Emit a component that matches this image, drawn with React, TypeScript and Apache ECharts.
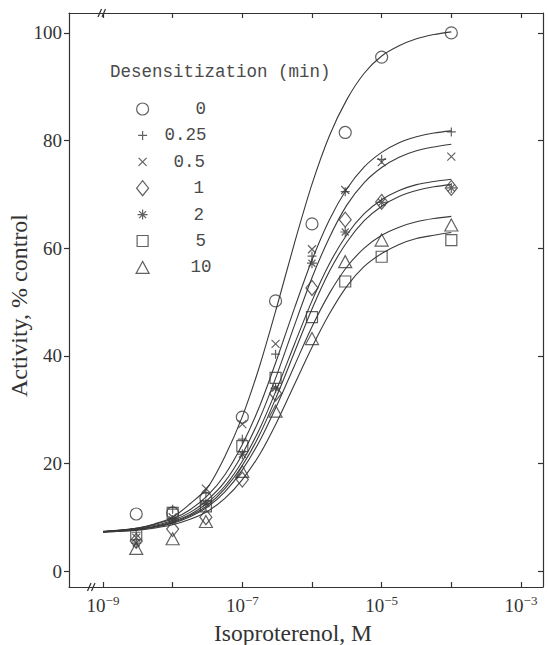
import React, { useEffect, useRef } from 'react';
import * as echarts from 'echarts';

// ---- data ----
const concentrations = [3e-9, 1e-8, 3e-8, 1e-7, 3e-7, 1e-6, 3e-6, 1e-5, 1e-4];
const desensitizationLabels = ['0', '0.25', '0.5', '1', '2', '5', '10'];
const activity0 = [10.6, 10.8, 13.5, 28.6, 50.2, 64.5, 81.5, 95.5, 100];
const activity025 = [7.2, 11.5, 14.5, 24.5, 40.3, 58.5, 70.5, 76.5, 81.6];
const activity05 = [6.2, 10, 15.3, 27.3, 42.2, 59.8, 70.8, 76, 77];
const activity1 = [5.6, 7.8, 10, 17, 33, 52.6, 65.3, 68.6, 71.2];
const activity2 = [5.2, 9.5, 12.5, 21.7, 34, 57.2, 63, 68.5, 71.2];
const activity5 = [6.8, 10.8, 12, 23.2, 35.9, 47.2, 53.8, 58.4, 61.5];
const activity10 = [4.2, 6, 9.2, 18.5, 29.7, 43.2, 57.5, 61.5, 64.3];

// fitted curves, read every quarter decade from 1e-9 to 1e-4
const fitConcentrations = [
  1e-9, 1.78e-9, 3.16e-9, 5.62e-9, 1e-8, 1.78e-8, 3.16e-8, 5.62e-8, 1e-7, 1.78e-7, 3.16e-7,
  5.62e-7, 1e-6, 1.78e-6, 3.16e-6, 5.62e-6, 1e-5, 1.78e-5, 3.16e-5, 5.62e-5, 1e-4,
];
const fit0 = [7.2, 7.6, 8.0, 8.8, 10.0, 12.5, 15.5, 21.3, 28.7, 38.2, 49.3, 61.0, 71.9, 80.9, 87.6, 92.5, 95.7, 97.6, 98.9, 99.7, 100.2];
const fit025 = [7.4, 7.6, 8.0, 8.7, 9.7, 11.4, 14.0, 17.9, 23.5, 30.7, 39.5, 48.9, 57.8, 65.3, 71.0, 75.1, 77.8, 79.6, 80.7, 81.4, 81.8];
const fit05 = [7.3, 7.5, 7.9, 8.5, 9.4, 10.9, 13.2, 16.6, 21.7, 28.4, 36.6, 45.7, 54.5, 62.0, 68.0, 72.2, 75.0, 76.9, 78.1, 78.8, 79.3];
const fit1 = [7.3, 7.5, 7.8, 8.3, 9.2, 10.5, 12.7, 15.8, 20.4, 26.5, 34.0, 42.2, 50.2, 57.1, 62.5, 66.4, 69.0, 70.7, 71.8, 72.4, 72.8];
const fit2 = [7.3, 7.5, 7.8, 8.2, 9.0, 10.3, 12.2, 15.3, 19.6, 25.4, 32.7, 40.7, 48.7, 55.7, 61.1, 65.1, 67.8, 69.6, 70.7, 71.4, 71.8];
const fit5 = [7.2, 7.4, 7.6, 8.0, 8.6, 9.6, 11.1, 13.5, 17.0, 21.7, 27.8, 34.7, 41.6, 47.8, 52.9, 56.6, 59.0, 60.7, 61.8, 62.4, 62.9];
const fit10 = [7.3, 7.4, 7.7, 8.2, 8.9, 10.1, 11.9, 14.7, 18.8, 24.2, 30.9, 38.2, 45.4, 51.6, 56.5, 60.0, 62.4, 63.9, 64.9, 65.5, 65.9];

const decadeTicks = [1e-9, 1e-8, 1e-7, 1e-6, 1e-5, 1e-4, 1e-3];
const decadeLabels = [1e-9, 1e-7, 1e-5, 1e-3];
const yTicks = [0, 20, 40, 60, 80, 100];

// ---- styling ----
const SERIF = '"Liberation Serif", "DejaVu Serif", serif';
const MONO = '"Liberation Mono", "DejaVu Sans Mono", monospace';
const INK = '#333333';
const MARK = '#3a3a3a';
const LEGEND_INK = '#4a4a4a';
const GRID = { left: 69, right: 5, top: 13, bottom: 58 };
const X_MIN = Math.pow(10, -9.488);
const X_MAX = Math.pow(10, -2.684);
const Y_MIN = -2.97;
const Y_MAX = 103.7;

// symbols drawn in a 16x16 box (the leading moves fix the box)
const BOX = 'M0,0 M16,16 ';
const symbols = [
  'path://' + BOX + 'M14,8 A6,6 0 1,1 2,8 A6,6 0 1,1 14,8 Z',
  'path://' + BOX + 'M8,3.5 L8,12.5 M3.5,8 L12.5,8',
  'path://' + BOX + 'M4,4 L12,12 M12,4 L4,12',
  'path://' + BOX + 'M8,0.5 L14,8 L8,15.5 L2,8 Z',
  'path://' + BOX + 'M8,3 L8,13 M3,8 L13,8 M4.5,4.5 L11.5,11.5 M11.5,4.5 L4.5,11.5',
  'path://' + BOX + 'M2.5,2.5 L13.5,2.5 L13.5,13.5 L2.5,13.5 Z',
  'path://' + BOX + 'M8,2 L14.5,14 L1.5,14 Z',
];
const legendPads = [40, 9, 18, 38, 38, 40, 35];

const pointSets = [activity0, activity025, activity05, activity1, activity2, activity5, activity10];
const fitSets = [fit0, fit025, fit05, fit1, fit2, fit5, fit10];

function buildOption(): any {
  const scatterSeries = pointSets.map((vals, k) => ({
    type: 'scatter',
    name: desensitizationLabels[k],
    data: concentrations.map((c, i) => [c, vals[i]]),
    symbol: symbols[k],
    symbolSize: 16,
    itemStyle: { color: 'rgba(0,0,0,0)', borderColor: MARK, borderWidth: 1.2 },
    z: 3,
  }));
  const lineSeries = fitSets.map((vals, k) => ({
    type: 'line',
    name: 'fit ' + desensitizationLabels[k],
    data: fitConcentrations.map((c, i) => [c, vals[i]]),
    showSymbol: false,
    smooth: 0.3,
    lineStyle: { color: MARK, width: 1.1 },
    silent: true,
    z: 2,
  }));

  const rich: any = {};
  legendPads.forEach((p, i) => {
    rich['p' + i] = { fontFamily: MONO, fontSize: 17.5, color: LEGEND_INK, lineHeight: 18, padding: [0, 0, 0, p] };
  });

  const axisLineStyle = { color: INK, width: 1.2 };

  return {
    animation: false,
    backgroundColor: '#ffffff',
    title: {
      text: 'Desensitization (min)',
      left: 110,
      top: 63,
      padding: 0,
      textStyle: { fontFamily: MONO, fontSize: 17.5, fontWeight: 'normal', color: LEGEND_INK },
    },
    legend: {
      orient: 'vertical',
      left: 134,
      top: 100,
      itemWidth: 16,
      itemHeight: 16,
      itemGap: 8.4,
      padding: 0,
      selectedMode: false,
      data: desensitizationLabels.map((n, i) => ({ name: n, icon: symbols[i] })),
      formatter: (name: string) => '{p' + desensitizationLabels.indexOf(name) + '|' + name + '}',
      textStyle: { fontFamily: MONO, fontSize: 17.5, color: LEGEND_INK, lineHeight: 18, rich },
      itemStyle: { color: 'rgba(0,0,0,0)', borderColor: MARK, borderWidth: 1.2 },
    },
    grid: { ...GRID, containLabel: false, outerBoundsMode: 'none' },
    xAxis: [
      {
        type: 'log',
        logBase: 10,
        min: X_MIN,
        max: X_MAX,
        position: 'bottom',
        name: 'Isoproterenol, M',
        nameLocation: 'middle',
        nameGap: 33,
        nameTextStyle: { fontFamily: SERIF, fontSize: 23.5, color: INK, padding: [0, 26, 0, 0] },
        axisLine: { show: true, onZero: false, lineStyle: axisLineStyle },
        axisTick: { show: true, inside: true, length: 5, customValues: decadeTicks, lineStyle: axisLineStyle },
        axisLabel: {
          customValues: decadeLabels,
          margin: 8,
          formatter: (v: number) => '{b|10}{s|\u2212' + Math.abs(Math.round(Math.log10(v))) + '}',
          rich: {
            b: { fontFamily: SERIF, fontSize: 19, color: INK, lineHeight: 20 },
            s: { fontFamily: SERIF, fontSize: 13, color: INK, lineHeight: 13, padding: [0, 0, 9, 0] },
          },
        },
        splitLine: { show: false },
        minorTick: { show: false },
      },
      {
        type: 'log',
        logBase: 10,
        min: X_MIN,
        max: X_MAX,
        position: 'top',
        axisLine: { show: true, onZero: false, lineStyle: axisLineStyle },
        axisTick: { show: true, inside: true, length: 5, customValues: decadeTicks, lineStyle: axisLineStyle },
        axisLabel: { show: false },
        splitLine: { show: false },
      },
    ],
    yAxis: [
      {
        type: 'value',
        min: Y_MIN,
        max: Y_MAX,
        position: 'left',
        name: 'Activity, % control',
        nameLocation: 'middle',
        nameGap: 38,
        nameMoveOverlap: false,
        nameTextStyle: { fontFamily: SERIF, fontSize: 24, color: INK, padding: [0, 11, 0, 0] },
        axisLine: { show: true, onZero: false, lineStyle: axisLineStyle },
        axisTick: { show: true, inside: false, length: 5, customValues: yTicks, lineStyle: axisLineStyle },
        axisLabel: { customValues: yTicks, margin: 7, fontFamily: SERIF, fontSize: 19, color: INK },
        splitLine: { show: false },
      },
      {
        type: 'value',
        min: Y_MIN,
        max: Y_MAX,
        position: 'right',
        axisLine: { show: true, onZero: false, lineStyle: axisLineStyle },
        axisTick: { show: true, inside: true, length: 5, customValues: yTicks, lineStyle: axisLineStyle },
        axisLabel: { show: false },
        splitLine: { show: false },
      },
    ],
    graphic: [
      { type: 'line', shape: { x1: 98, y1: 17, x2: 101.5, y2: 9 }, style: { stroke: INK, lineWidth: 1.2 }, z: 10 },
      { type: 'line', shape: { x1: 102, y1: 17, x2: 105.5, y2: 9 }, style: { stroke: INK, lineWidth: 1.2 }, z: 10 },
      { type: 'line', shape: { x1: 87.5, y1: 591, x2: 91, y2: 583 }, style: { stroke: INK, lineWidth: 1.2 }, z: 10 },
      { type: 'line', shape: { x1: 91.5, y1: 591, x2: 95, y2: 583 }, style: { stroke: INK, lineWidth: 1.2 }, z: 10 },
    ],
    series: [...lineSeries, ...scatterSeries],
  };
}

export default function App() {
  const ref = useRef<HTMLDivElement>(null);
  useEffect(() => {
    if (!ref.current) return;
    const chart = echarts.init(ref.current, null, { renderer: 'svg' });
    chart.setOption(buildOption());
    return () => chart.dispose();
  }, []);
  return (
    <div
      ref={ref}
      style={{ position: 'absolute', left: 0, top: 0, width: 548, height: 645, background: '#ffffff' }}
    />
  );
}
